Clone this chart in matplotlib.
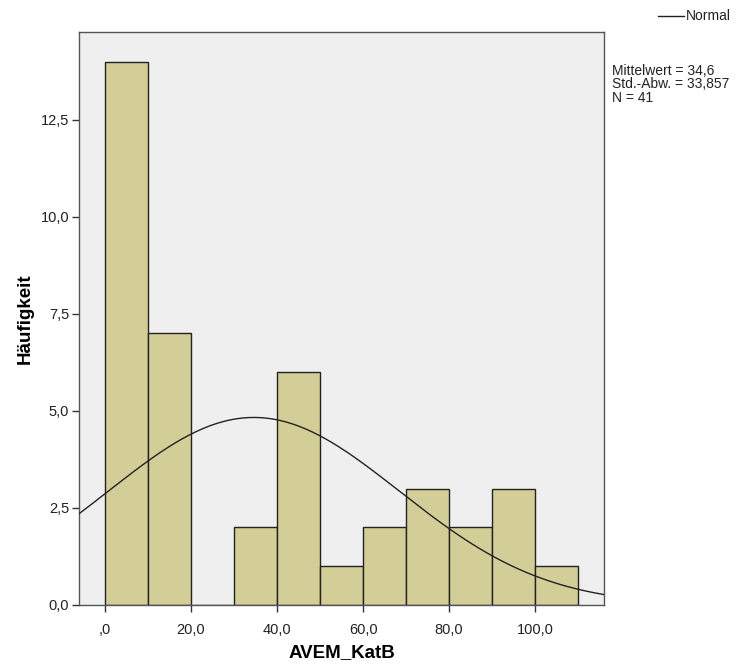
import numpy as np
import matplotlib.pyplot as plt
from matplotlib.ticker import FuncFormatter

# histogram of AVEM_KatB, bin width 10
bin_edges = [0, 10, 20, 30, 40, 50, 60, 70, 80, 90, 100, 110]
counts = [14, 7, 0, 2, 6, 1, 2, 3, 2, 3, 1]
mean_val = 34.6
std_val = 33.857
n_total = 41

x_ticks = [0, 20, 40, 60, 80, 100]
y_ticks = [0, 2.5, 5.0, 7.5, 10.0, 12.5]

plt.rcParams['font.family'] = ['Liberation Sans', 'DejaVu Sans']

fig = plt.figure(figsize=(7.38, 6.68), dpi=100)
ax = fig.add_axes([79 / 738, 1 - 605 / 668, (604 - 79) / 738, (605 - 32) / 668])
ax.set_facecolor('#efefef')

widths = np.diff(bin_edges)
ax.bar(bin_edges[:-1], counts, width=widths, align='edge',
       color='#d3ce97', edgecolor='#222222', linewidth=1.0, zorder=2)

# normal curve scaled to counts
xs = np.linspace(-6.05, 116.0, 400)
scale = n_total * 10
ys = scale / (std_val * np.sqrt(2 * np.pi)) * np.exp(-0.5 * ((xs - mean_val) / std_val) ** 2)
ax.plot(xs, ys, color='#222222', linewidth=1.0, zorder=3)

ax.set_xlim(-6.05, 116.0)
ax.set_ylim(0, 14.76)

def x_fmt(v, pos):
    s = '%.1f' % v
    if s.startswith('0.'):
        s = s[1:]
    return s.replace('.', ',')

def y_fmt(v, pos):
    return ('%.1f' % v).replace('.', ',')

ax.set_xticks(x_ticks)
ax.set_yticks(y_ticks)
ax.xaxis.set_major_formatter(FuncFormatter(x_fmt))
ax.yaxis.set_major_formatter(FuncFormatter(y_fmt))
ax.tick_params(axis='both', labelsize=10.5, length=5, width=1, color='#333333',
               labelcolor='#222222', direction='out', pad=8)
ax.tick_params(axis='y', pad=2)
for sp in ax.spines.values():
    sp.set_color('#555555')
    sp.set_linewidth(1.0)

ax.set_xlabel('AVEM_KatB', fontsize=13.5, fontweight='bold', labelpad=5)
ax.set_ylabel('Häufigkeit', fontsize=13.5, fontweight='bold', labelpad=5)

# legend and stats text on the right
fig.lines.append(plt.Line2D([658 / 738, 684 / 738], [1 - 16 / 668, 1 - 16 / 668],
                            color='#222222', linewidth=1.0, transform=fig.transFigure))
fig.text(686 / 738, 1 - 16 / 668, 'Normal', fontsize=10, va='center', ha='left', color='#222222')
fig.text(612 / 738, 1 - 64 / 668,
         'Mittelwert = 34,6\nStd.-Abw. = 33,857\nN = %d' % n_total,
         fontsize=10, va='top', ha='left', color='#222222', linespacing=0.95)

fig.savefig('out.png', dpi=100)
